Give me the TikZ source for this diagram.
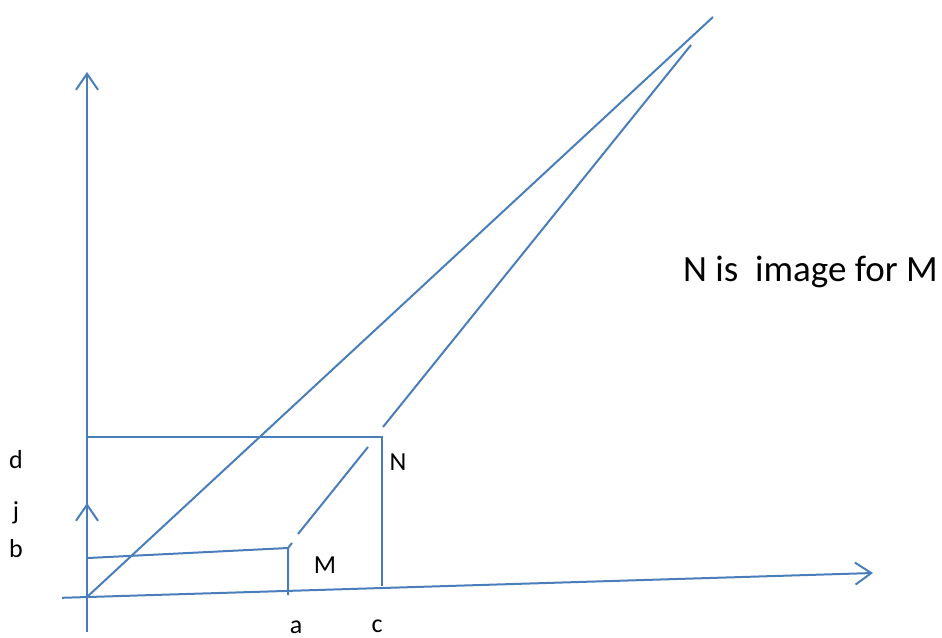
\documentclass[tikz,border=0pt]{standalone}
\usepackage{fontspec}
\setmainfont{Carlito}
\usetikzlibrary{arrows.meta}
\definecolor{lineblue}{HTML}{4A7EBB}
\tikzset{
  ln/.style={draw=lineblue, line width=2pt},
  ax/.style={ln, -{Straight Barb[length=16pt,width=22pt,line width=2pt]}},
  lbl/.style={font=\fontsize{26}{30}\selectfont, inner sep=0pt, text=black},
  big/.style={font=\fontsize{37}{42}\selectfont, inner sep=0pt, text=black}
}
\begin{document}
\begin{tikzpicture}[x=1pt,y=-1pt]
\useasboundingbox (0,0) rectangle (942,637);
% coordinates
\coordinate (O) at (87,597);
\coordinate (yb) at (87,632);
\coordinate (yt) at (87,72);
\coordinate (xl) at (62,597.8);
\coordinate (xr) at (873,573);
\coordinate (jt) at (87,503);
\coordinate (B) at (88,558);
\coordinate (M) at (288,548);
\coordinate (Ma) at (288,595);
\coordinate (Mt) at (292,543);
\coordinate (P1) at (298,534);
\coordinate (P2) at (368,447);
\coordinate (D) at (88,437);
\coordinate (N) at (382,437);
\coordinate (Nc) at (382,586);
\coordinate (T1) at (713,17);
\coordinate (N2) at (383,427);
\coordinate (T2) at (691,45);
% axes
\draw[ax] (yb) -- (yt);
\draw[ax] (xl) -- (xr);
\draw[ax] (O) -- (jt);
% M construction
\draw[ln] (B) -- (M) -- (Ma);
\draw[ln] (M) -- (Mt);
\draw[ln] (P1) -- (P2);
% N construction
\draw[ln] (D) -- (N) -- (Nc);
\draw[ln] (O) -- (T1);
\draw[ln] (N2) -- (T2);
% labels
\node[lbl] (ld) at (16,460) {d};
\node[lbl] (lj) at (16,513) {j};
\node[lbl] (lb) at (16,549) {b};
\node[lbl] (lM) at (325,565) {M};
\node[lbl] (lN) at (398,462) {N};
\node[lbl] (la) at (296,627) {a};
\node[lbl] (lc) at (377,626) {c};
\node[big, anchor=west] (txt) at (683,272) {N is\ \ image for M};
\end{tikzpicture}
\end{document}
